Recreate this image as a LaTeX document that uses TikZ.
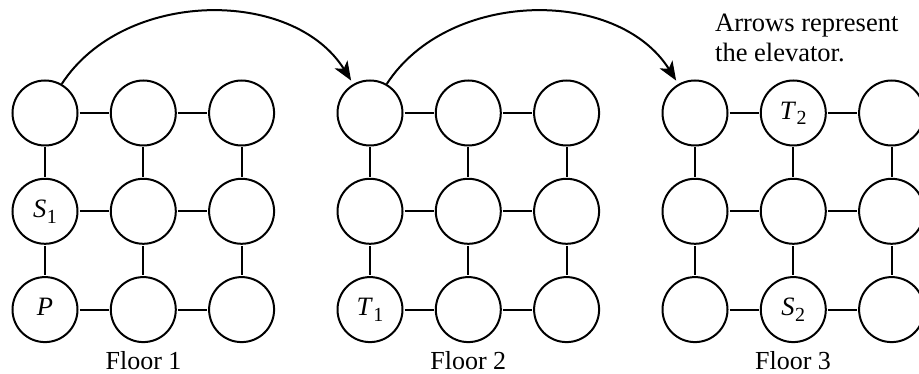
\documentclass[tikz,border=0pt]{standalone}
\usepackage{fontspec}
\setmainfont{Liberation Serif}
\usetikzlibrary{arrows.meta}

% italic letter with an upright subscript index
\newcommand{\idx}[2]{\textit{#1}\kern0.5pt\raisebox{-5.7pt}{\fontsize{20}{20}\selectfont #2}}

\begin{document}
\begin{tikzpicture}[x=1pt,y=-1pt,
  room/.style={circle, draw, line width=2pt, minimum size=65pt, inner sep=0pt},
  roomtext/.style={font=\fontsize{26.5}{26.5}\selectfont, inner sep=0pt, anchor=base},
  link/.style={line width=2pt, shorten <=1pt, shorten >=1pt},
  lift/.style={line width=2pt, shorten >=4pt, -{Stealth[length=19pt,width=15pt,inset=5pt]}},
  floorlabel/.style={font=\fontsize{26}{26}\selectfont, anchor=base, inner sep=0pt},
  notetext/.style={font=\fontsize{26.5}{30}\selectfont, anchor=base west, align=left, inner sep=0pt}]
\useasboundingbox (0,0) rectangle (919,374);

% three floors, each a 3x3 grid of rooms
\foreach \f/\x in {1/45,2/370,3/695}{
  \foreach \r in {0,1,2}{
    \foreach \c in {0,1,2}{
      \node[room] (f\f-\r\c) at (\x+98.3*\c, 113+98.3*\r) {};
    }
  }
  \foreach \r in {0,1,2}{
    \foreach \c [evaluate=\c as \d using int(\c+1)] in {0,1}{
      \draw[link] (f\f-\r\c) -- (f\f-\r\d);
      \draw[link] (f\f-\c\r) -- (f\f-\d\r);
    }
  }
}

% room labels, set on a baseline just below each room's centre
\node[roomtext] (s1) at ([yshift=-6.3pt]f1-10) {\idx{S}{1}};
\node[roomtext] (p)  at ([yshift=-6.3pt]f1-20) {\textit{P}};
\node[roomtext] (t1) at ([yshift=-6.3pt]f2-20) {\idx{T}{1}};
\node[roomtext] (t2) at ([yshift=-6.3pt]f3-01) {\idx{T}{2}};
\node[roomtext] (s2) at ([yshift=-6.3pt]f3-21) {\idx{S}{2}};

% elevator arrows
\draw[lift] (f1-00.60) to[out=57,in=122] (f2-00.120);
\draw[lift] (f2-00.60) to[out=57,in=122] (f3-00.120);

% floor captions
\node[floorlabel] (fl1) at (143.5,369) {Floor 1};
\node[floorlabel] (fl2) at (468.3,369) {Floor 2};
\node[floorlabel] (fl3) at (793,369) {Floor 3};

\node[notetext] (note) at (715,61.7) {Arrows represent\\the elevator.};
\end{tikzpicture}
\end{document}
